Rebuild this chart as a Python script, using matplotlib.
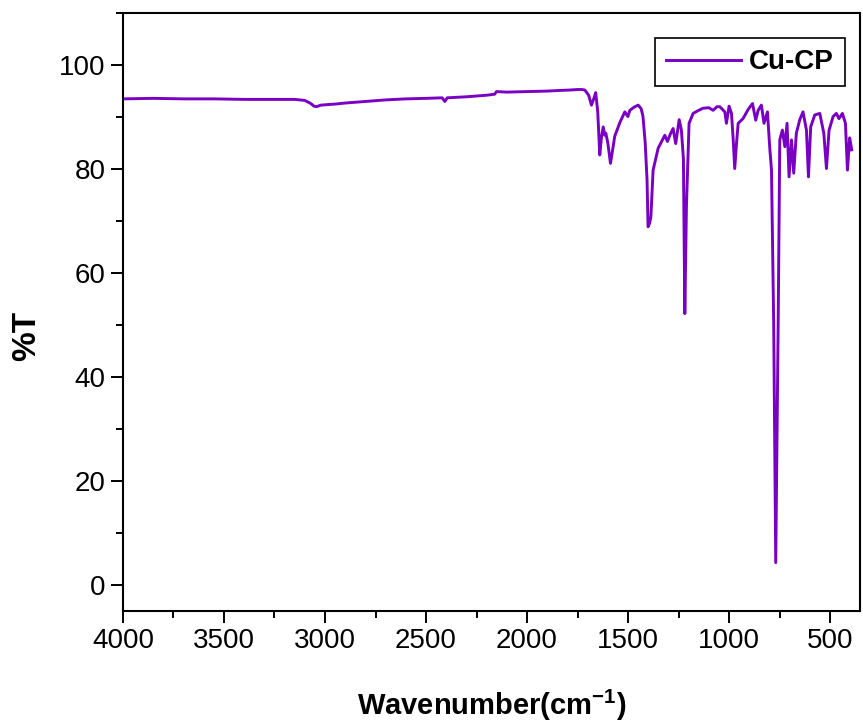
import matplotlib
matplotlib.use("Agg")
import matplotlib.pyplot as plt
from matplotlib.ticker import MultipleLocator

plt.rcParams['font.family'] = ['Liberation Sans', 'DejaVu Sans']
plt.rcParams['mathtext.fontset'] = 'custom'
plt.rcParams['mathtext.bf'] = 'Liberation Sans:bold'
plt.rcParams['mathtext.rm'] = 'Liberation Sans'

# FTIR spectrum of Cu-CP
wavenumber = [4000, 3850, 3700, 3550, 3400, 3250, 3150, 3100, 3070, 3055, 3042,
              3020, 2950, 2900, 2800, 2700, 2600, 2500, 2420, 2407, 2395, 2300,
              2200, 2160, 2151, 2100, 2000, 1900, 1850, 1788, 1750, 1730, 1714,
              1695, 1681, 1670, 1660, 1650, 1640, 1632, 1623, 1615, 1610, 1600,
              1587, 1575, 1566, 1540, 1516, 1501, 1491, 1470, 1450, 1435, 1426,
              1415, 1406, 1401, 1394, 1387, 1376, 1351, 1318, 1305, 1290, 1277,
              1264, 1247, 1236, 1226, 1219, 1211, 1198, 1178, 1155, 1129, 1100,
              1079, 1060, 1046, 1021, 1013, 1000, 988, 980, 972, 963, 955, 931,
              905, 884, 868, 856, 840, 827, 810, 799, 790, 779, 769, 757, 749,
              736, 724, 713, 703, 691, 680, 667, 650, 634, 617, 607, 596, 576,
              551, 531, 518, 505, 485, 469, 456, 439, 424, 414, 403, 393]
transmittance = [93.5, 93.6, 93.5, 93.5, 93.4, 93.4, 93.4, 93.2, 92.6, 92.1, 92.0,
                 92.3, 92.5, 92.7, 93.0, 93.3, 93.5, 93.6, 93.7, 93.0, 93.7, 93.9,
                 94.2, 94.4, 94.9, 94.8, 94.9, 95.0, 95.1, 95.2, 95.3, 95.3, 95.2,
                 94.2, 92.3, 93.5, 94.7, 91.0, 82.7, 86.0, 88.1, 86.5, 86.9, 85.0,
                 81.1, 84.0, 86.3, 89.0, 91.0, 90.1, 91.3, 91.9, 92.3, 91.6, 90.1,
                 85.0, 77.9, 68.9, 69.5, 70.8, 79.8, 84.0, 86.5, 85.3, 86.8, 87.8,
                 84.9, 89.5, 87.5, 82.0, 52.2, 72.8, 88.8, 90.7, 91.2, 91.7, 91.8,
                 91.3, 92.0, 92.0, 91.0, 88.8, 92.1, 90.7, 86.0, 80.1, 85.0, 88.8,
                 89.7, 91.5, 92.6, 89.4, 91.3, 92.3, 88.8, 91.0, 84.3, 79.8, 50.0,
                 4.3, 50.0, 85.6, 87.5, 84.3, 88.8, 78.5, 85.6, 79.2, 86.9, 89.5,
                 91.0, 87.5, 78.5, 88.1, 90.4, 90.7, 86.9, 80.1, 87.5, 90.1, 90.7,
                 89.7, 90.7, 88.8, 79.8, 86.0, 83.7]

fig = plt.figure(figsize=(8.63, 7.27), dpi=100)
ax = fig.add_axes([0.1425, 0.1596, 0.854, 0.8224])

ax.plot(wavenumber, transmittance, color='#7a00c4', linewidth=2.1, label='Cu-CP')

ax.set_xlim(4000, 352)
ax.set_ylim(-5, 110)
ax.xaxis.set_major_locator(MultipleLocator(500))
ax.xaxis.set_minor_locator(MultipleLocator(250))
ax.yaxis.set_major_locator(MultipleLocator(20))
ax.yaxis.set_minor_locator(MultipleLocator(10))
ax.tick_params(which='major', direction='out', length=8.5, width=1.4,
               labelsize=20, pad=4)
ax.tick_params(which='minor', direction='out', length=5, width=1.4)
for s in ax.spines.values():
    s.set_linewidth(1.5)

ax.set_xlabel('Wavenumber(cm$^{\\mathbf{-1}}$)', fontsize=21, fontweight='bold',
              labelpad=24)
ax.set_ylabel('%T', fontsize=24, fontweight='bold')
ax.yaxis.set_label_coords(-0.11, 0.46)

leg = ax.legend(loc='upper right', bbox_to_anchor=(0.98, 0.958), borderaxespad=0,
                fancybox=False, edgecolor='black', handlelength=2.7,
                handletextpad=0.3, borderpad=0.4,
                prop={'size': 20, 'weight': 'bold'}, framealpha=1)
leg.get_frame().set_linewidth(1.2)

plt.savefig('out.png', dpi=100)
